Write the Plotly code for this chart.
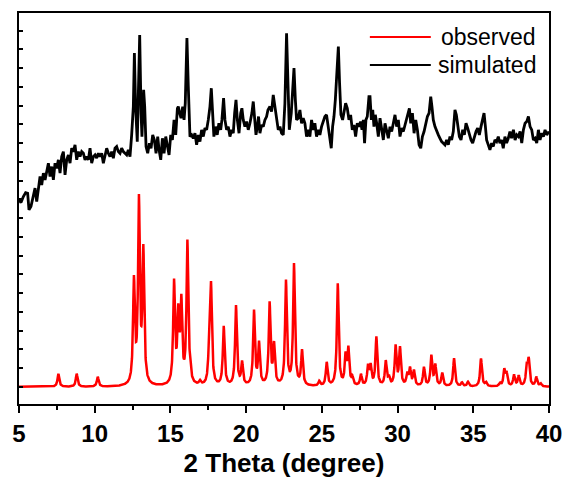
import numpy as np
import plotly.graph_objects as go

# Red pattern: reflection positions (2θ, degree) and peak intensities (arb. units)
obs_pos = [7.60, 8.81, 10.20, 12.59, 12.92, 13.21, 15.24, 15.52, 15.72, 16.12,
           16.29, 16.95, 17.55, 17.68, 18.52, 19.33, 19.73, 20.52, 20.85, 21.55,
           21.84, 22.63, 23.16, 23.69, 24.83, 25.32, 26.05, 26.57, 26.75, 27.01,
           27.58, 28.05, 28.22, 28.60, 29.22, 29.43, 29.87, 30.16, 30.64, 30.82,
           31.08, 31.74, 32.23, 32.49, 32.95, 33.73, 34.25, 34.65, 35.51, 35.84,
           36.76, 37.05, 37.20, 37.69, 38.00, 38.53, 38.66, 39.16, 39.45]
obs_int = [0.69, 0.69, 0.52, 5.45, 9.65, 7.00, 5.40, 3.55, 4.20, 7.55,
           0.45, 0.20, 1.40, 5.25, 3.15, 4.25, 1.20, 3.95, 2.20, 4.35,
           2.10, 5.55, 6.45, 1.85, 0.25, 1.25, 5.45, 1.50, 1.90, 0.40,
           0.60, 1.00, 1.00, 2.60, 1.30, 0.40, 2.10, 2.00, 0.60, 0.90,
           0.80, 1.00, 1.60, 1.10, 0.70, 1.50, 0.20, 0.25, 1.50, 0.20,
           0.15, 0.85, 0.65, 0.60, 0.55, 1.00, 1.35, 0.50, 0.15]
peak_hwhm = 0.07

sim_theta = [5.00, 5.13, 5.29, 5.44, 5.57, 5.66, 5.79, 5.95, 6.06, 6.17, 6.28, 6.39, 6.50, 6.61,
             6.72, 6.83, 6.94, 7.05, 7.16, 7.27, 7.38, 7.49, 7.60, 7.71, 7.82, 7.93, 8.04, 8.15,
             8.26, 8.37, 8.48, 8.59, 8.70, 8.81, 8.92, 9.03, 9.14, 9.25, 9.36, 9.47, 9.58, 9.69,
             9.80, 9.91, 10.02, 10.13, 10.24, 10.35, 10.46, 10.57, 10.68, 10.79, 10.90, 11.01,
             11.12, 11.23, 11.34, 11.45, 11.56, 11.67, 11.78, 11.89, 12.00, 12.11, 12.22, 12.33,
             12.44, 12.55, 12.62, 12.70, 12.81, 12.90, 12.97, 13.06, 13.12, 13.23, 13.30, 13.39,
             13.50, 13.61, 13.72, 13.83, 13.94, 14.05, 14.16, 14.25, 14.36, 14.47, 14.58, 14.69,
             14.80, 14.91, 15.02, 15.13, 15.24, 15.35, 15.46, 15.52, 15.61, 15.70, 15.81, 15.90,
             15.98, 16.09, 16.18,
             16.29, 16.40, 16.51, 16.62, 16.73, 16.84, 16.95, 17.06, 17.17, 17.28, 17.39, 17.50,
             17.61, 17.70, 17.79, 17.87, 17.98, 18.09, 18.20, 18.32, 18.40, 18.51, 18.60, 18.71,
             18.82, 18.93, 19.04, 19.15, 19.24, 19.33, 19.42, 19.53, 19.64, 19.72, 19.81, 19.92,
             20.03, 20.14, 20.25, 20.38, 20.47, 20.56, 20.65, 20.74, 20.82, 20.91, 21.02, 21.13,
             21.24, 21.35, 21.44, 21.57, 21.68, 21.79, 21.90, 22.01, 22.12, 22.23, 22.34, 22.45,
             22.56, 22.67, 22.76, 22.85, 22.98, 23.07, 23.16, 23.25, 23.33, 23.44, 23.55, 23.66,
             23.77, 23.88, 23.99, 24.10, 24.21, 24.32, 24.43, 24.54, 24.65, 24.76, 24.87, 24.98,
             25.09, 25.20, 25.31, 25.42, 25.53, 25.62, 25.71, 25.80, 25.89, 25.98, 26.09, 26.17,
             26.26, 26.37, 26.46, 26.57, 26.68, 26.79, 26.90, 27.01, 27.12, 27.23, 27.34, 27.45,
             27.56, 27.65, 27.74, 27.82, 27.91, 28.00, 28.11,
             28.18, 28.27, 28.36, 28.44, 28.53, 28.62, 28.73, 28.84, 28.95, 29.06, 29.17, 29.28,
             29.39, 29.50, 29.61, 29.72, 29.83, 29.94, 30.05, 30.16, 30.27, 30.38, 30.49, 30.60,
             30.71, 30.78, 30.87, 30.98, 31.09, 31.20, 31.31, 31.42, 31.53, 31.64, 31.75, 31.86,
             31.97, 32.08, 32.19, 32.27, 32.36, 32.47, 32.58, 32.69, 32.80, 32.91, 33.02, 33.13,
             33.24, 33.35, 33.46, 33.57, 33.68, 33.79, 33.88, 33.97, 34.08, 34.19, 34.30, 34.41,
             34.52, 34.63, 34.74, 34.85, 34.96, 35.07, 35.18, 35.29, 35.40, 35.51, 35.62, 35.71,
             35.80, 35.88, 35.99, 36.10, 36.21, 36.32, 36.43, 36.54, 36.65, 36.76, 36.87, 36.98,
             37.09, 37.20, 37.31, 37.42, 37.53, 37.65, 37.76, 37.87, 37.98, 38.09, 38.20, 38.31,
             38.42, 38.53, 38.64, 38.75, 38.86, 38.97, 39.08, 39.19, 39.30, 39.41, 39.52, 39.63,
             39.74, 39.85, 40.00]
sim_int = [9.97, 9.83, 10.15, 10.36, 10.33, 9.44, 9.62, 10.33, 10.60, 9.88, 10.51, 11.22, 10.77, 11.40,
           11.04, 11.48, 11.93, 11.22, 11.75, 11.04, 11.93, 11.66, 12.11, 11.40, 12.28, 12.55, 11.31, 12.11,
           12.37, 11.93, 12.73, 12.55, 12.91, 12.11, 12.55, 12.28, 12.55, 12.46, 12.11, 12.28, 12.11, 12.73,
           11.93, 12.28, 12.37, 12.20, 12.46, 12.28, 12.46, 11.93, 12.28, 12.73, 12.46, 12.28,
           12.55, 12.20, 12.73, 12.82, 12.55, 12.46, 12.73, 12.55, 12.46, 12.37, 12.64, 12.28,
           13.44, 14.95, 17.80, 14.95, 13.08, 17.44, 18.77, 14.60, 13.35, 15.84, 14.95, 12.82,
           12.46, 13.00, 12.73, 13.44, 13.17, 12.46, 13.35, 12.64, 12.11, 13.26, 12.46, 13.35,
           12.73, 12.37, 13.44, 13.17, 14.24, 13.44, 14.86, 14.95, 14.60, 14.33, 14.95, 14.24,
           15.13, 18.60, 16.02,
           13.35, 13.44, 13.26, 13.53, 12.91, 13.44, 13.08, 13.71, 13.35, 13.80, 13.71, 14.24,
           14.95, 15.93, 14.42, 13.35, 13.88, 13.44, 14.06, 13.71, 14.24, 15.40, 14.24, 13.71,
           13.88, 13.35, 13.71, 13.53, 14.60, 15.31, 14.24, 13.53, 14.60, 14.86, 14.24, 13.88,
           14.15, 13.71, 14.06, 14.60, 15.22, 14.24, 13.44, 13.88, 14.42, 13.53, 13.97, 13.88,
           14.24, 14.42, 14.77, 14.95, 14.68, 15.57, 14.95, 14.33, 13.71, 13.88, 13.53, 13.44,
           15.13, 18.86, 15.84, 13.71, 14.60, 15.66, 17.00, 15.31, 14.24, 14.33, 14.77, 14.06,
           14.33, 14.06, 13.35, 13.71, 13.35, 14.24, 13.71, 14.06, 13.35, 13.71, 13.44, 13.88,
           14.15, 14.42, 14.51, 13.88, 13.26, 12.73, 13.88, 14.42, 15.31, 16.73, 18.15, 16.20,
           14.51, 14.24, 14.60, 15.13, 14.86, 14.24, 14.51, 13.71, 13.97, 13.35, 14.06, 13.88,
           14.15, 13.71, 14.24, 13.00, 14.24, 14.42, 15.48,
           15.48, 14.24, 14.77, 13.88, 14.51, 14.06, 13.35, 14.33, 13.62, 13.17, 14.06, 13.71,
           13.26, 13.88, 13.62, 14.06, 14.51, 13.88, 14.24, 13.35, 13.80, 13.62, 13.97, 14.24,
           14.60, 14.86, 14.06, 14.60, 13.53, 14.24, 13.71, 12.91, 12.73, 13.35, 13.62, 14.06,
           14.42, 14.60, 15.48, 14.95, 14.24, 13.88, 13.62, 13.44, 13.26, 13.08, 13.00, 12.91,
           13.17, 12.91, 13.35, 13.17, 13.62, 14.77, 14.51, 13.88, 13.35, 13.17, 13.71, 13.44,
           14.06, 13.80, 13.44, 13.17, 13.00, 13.35, 13.62, 13.80, 13.44, 13.88, 14.24, 14.60,
           13.88, 13.17, 12.91, 12.64, 13.00, 12.82, 13.17, 13.08, 13.35, 13.00, 13.17, 12.73,
           13.35, 13.00, 13.26, 13.62, 13.26, 13.71, 13.17, 13.44, 13.35, 13.62, 13.00, 13.71,
           14.06, 14.15, 14.42, 13.88, 13.71, 13.17, 13.26, 13.00, 13.71, 13.17, 13.53, 13.35,
           13.71, 13.44, 13.62]

# Calculated profile: Lorentzian reflections on the 2θ grid
two_theta = np.arange(5.0, 40.0001, 0.01)
obs_profile = np.zeros_like(two_theta)
for p, h in zip(obs_pos, obs_int):
    obs_profile += h * peak_hwhm**2 / ((two_theta - p) ** 2 + peak_hwhm**2)

fig = go.Figure()
fig.add_trace(go.Scatter(x=two_theta, y=obs_profile, mode="lines", name="observed",
                         line=dict(color="#ff0000", width=2.5), showlegend=False))
fig.add_trace(go.Scatter(x=sim_theta, y=sim_int, mode="lines", name="simulated",
                         line=dict(color="#000000", width=2.8), showlegend=False))

# Legend drawn as line samples with right-aligned labels
legend_rows = [("observed", "#ff0000", 0.9386), ("simulated", "#000000", 0.867)]
for label, colour, ypos in legend_rows:
    fig.add_shape(type="line", xref="paper", yref="paper", x0=0.662, x1=0.777,
                  y0=ypos, y1=ypos, line=dict(color=colour, width=2))
    fig.add_annotation(xref="paper", yref="paper", x=0.98, y=ypos, text=label,
                       xanchor="right", yanchor="middle", showarrow=False,
                       font=dict(family="Liberation Sans, Arial, sans-serif", size=23,
                                 color="black"))

fig.update_layout(
    width=567, height=488,
    margin=dict(l=19, r=18, t=13, b=84),
    paper_bgcolor="white", plot_bgcolor="white",
    showlegend=False,
    xaxis=dict(
        range=[5, 40], tick0=5, dtick=5, automargin=False,
        ticks="outside", ticklen=7, tickwidth=2, tickcolor="black",
        minor=dict(tick0=5, dtick=2.5, ticks="outside", ticklen=4, tickwidth=2,
                   tickcolor="black"),
        showline=True, linewidth=2, linecolor="black", mirror=True,
        showgrid=False, zeroline=False,
        tickfont=dict(family="Liberation Sans, Arial, sans-serif", size=24,
                      color="black", weight="bold"),
        title=dict(text="2 Theta (degree)", standoff=8,
                   font=dict(family="Liberation Sans, Arial, sans-serif", size=26,
                             color="black", weight="bold")),
    ),
    yaxis=dict(
        range=[-0.91, 19.94], tick0=0, dtick=1, automargin=False,
        ticks="inside", ticklen=4, tickwidth=1.5, tickcolor="black",
        showticklabels=False,
        showline=True, linewidth=2, linecolor="black", mirror=True,
        showgrid=False, zeroline=False,
    ),
)

fig.write_html("out.html")
